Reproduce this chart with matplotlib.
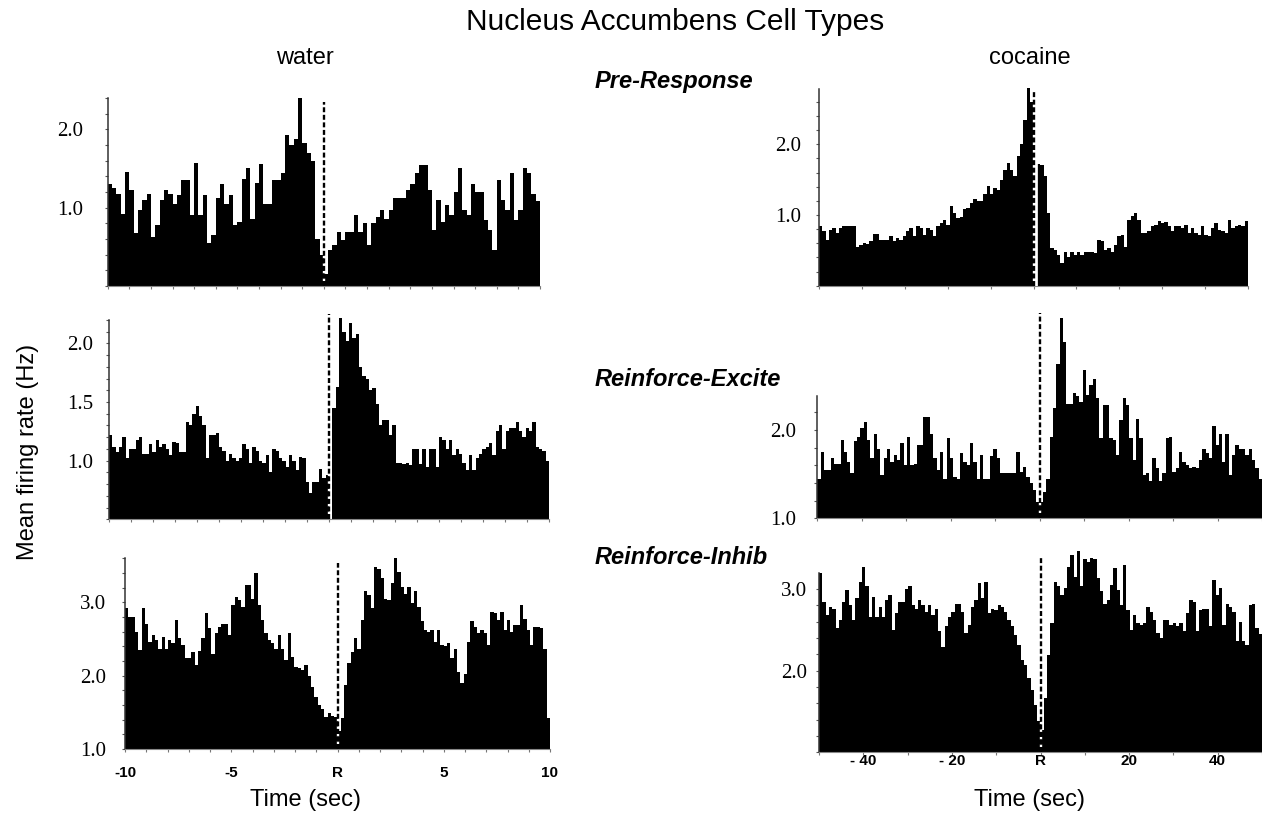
import numpy as np
import matplotlib
matplotlib.use('Agg')
import matplotlib.pyplot as plt
from matplotlib.ticker import FixedLocator, NullFormatter

# ---------------- data (mean firing rate, Hz) ----------------
water_pre = [1.30, 1.25, 1.17, 0.92, 1.45, 1.22, 0.68, 0.97, 1.10, 1.17,
             0.62, 0.78, 1.10, 1.22, 1.17, 1.05, 1.16, 1.35, 1.35, 0.90,
             1.57, 0.90, 1.16, 0.55, 0.65, 1.12, 1.30, 1.05, 1.16, 0.78,
             0.82, 1.37, 1.50, 0.85, 1.31, 1.56, 1.05, 1.05, 1.35, 1.35,
             1.44, 1.93, 1.80, 1.88, 2.40, 1.82, 1.70, 1.60, 0.60, 0.40,
             0.15, 0.46, 0.52, 0.69, 0.59, 0.69, 0.69, 0.90, 0.69, 0.80,
             0.52, 0.80, 0.88, 0.97, 0.86, 0.97, 1.12, 1.12, 1.12, 1.22,
             1.30, 1.44, 1.54, 1.54, 1.22, 0.71, 1.10, 0.82, 1.03, 0.90,
             1.20, 1.50, 0.97, 0.90, 1.30, 1.20, 1.20, 0.84, 0.71, 0.46,
             1.35, 1.10, 0.97, 1.44, 0.84, 0.97, 1.50, 1.44, 1.17, 1.08]

cocaine_pre = [0.84, 0.77, 0.65, 0.79, 0.81, 0.74, 0.81, 0.84, 0.84, 0.84,
               0.85, 0.55, 0.58, 0.60, 0.59, 0.63, 0.73, 0.73, 0.65, 0.64,
               0.64, 0.70, 0.63, 0.67, 0.65, 0.70, 0.77, 0.81, 0.70, 0.85,
               0.81, 0.72, 0.81, 0.79, 0.70, 0.84, 0.89, 0.93, 0.86, 1.13,
               1.03, 0.96, 0.97, 1.08, 1.10, 1.17, 1.22, 1.20, 1.20, 1.29,
               1.41, 1.29, 1.38, 1.36, 1.50, 1.64, 1.74, 1.64, 1.55, 1.83,
               2.00, 2.35, 2.80, 2.60,
               1.75, 1.72, 1.70, 1.55, 1.03, 0.53, 0.51, 0.44, 0.32, 0.48,
               0.41, 0.48, 0.44, 0.48, 0.44, 0.48, 0.48, 0.48, 0.46, 0.65,
               0.63, 0.51, 0.53, 0.48, 0.58, 0.70, 0.72, 0.55, 0.93, 0.98,
               1.03, 0.93, 0.74, 0.74, 0.77, 0.84, 0.86, 0.91, 0.89, 0.90,
               0.84, 0.77, 0.84, 0.84, 0.81, 0.86, 0.74, 0.81, 0.74, 0.72,
               0.84, 0.72, 0.70, 0.81, 0.88, 0.79, 0.77, 0.74, 0.93, 0.81,
               0.84, 0.86, 0.85, 0.91]

water_excite = [1.22, 1.12, 1.07, 1.12, 1.20, 1.02, 1.10, 1.10, 1.18, 1.20,
                1.06, 1.06, 1.14, 1.07, 1.18, 1.12, 1.14, 1.10, 1.05, 1.16,
                1.15, 1.07, 1.07, 1.33, 1.30, 1.40, 1.47, 1.38, 1.30, 1.02,
                1.22, 1.22, 1.24, 1.12, 1.08, 1.00, 1.06, 1.02, 1.00, 1.02,
                1.14, 1.10, 0.98, 1.12, 1.08, 1.00, 0.98, 1.05, 0.90, 1.10,
                1.08, 1.02, 1.00, 0.95, 1.05, 1.00, 0.92, 1.03, 1.02, 0.82,
                0.72, 0.82, 0.82, 0.93, 0.85, 0.88,
                0.50, 1.45, 1.63, 2.22, 2.10, 2.02, 2.17, 2.05, 2.08, 1.80,
                1.72, 1.70, 1.60, 1.62, 1.48, 1.30, 1.35, 1.35, 1.22, 1.30,
                0.98, 0.98, 0.97, 0.98, 0.96, 1.10, 1.10, 0.97, 1.10, 0.95,
                1.10, 1.10, 0.95, 1.20, 1.18, 1.10, 1.18, 1.05, 1.10, 1.06,
                0.98, 0.92, 1.05, 0.92, 1.02, 1.06, 1.10, 1.12, 1.15, 1.05,
                1.25, 1.30, 1.10, 1.25, 1.28, 1.28, 1.33, 1.25, 1.20, 1.28,
                1.25, 1.33, 1.12, 1.10, 1.08, 1.00]

cocaine_excite = [1.45, 1.75, 1.55, 1.55, 1.68, 1.62, 1.61, 1.89, 1.75, 1.64,
                  1.51, 1.87, 1.92, 2.02, 2.09, 1.89, 1.68, 1.96, 1.79, 1.49,
                  1.68, 1.78, 1.64, 1.72, 1.66, 1.85, 1.60, 1.92, 1.60, 1.62,
                  1.83, 1.83, 2.15, 2.15, 1.96, 1.68, 1.55, 1.75, 1.45, 1.91,
                  1.68, 1.47, 1.45, 1.74, 1.64, 1.60, 1.85, 1.64, 1.45, 1.72,
                  1.45, 1.45, 1.70, 1.79, 1.68, 1.51, 1.51, 1.51, 1.51, 1.51,
                  1.75, 1.53, 1.58, 1.47, 1.40, 1.32, 1.19,
                  1.19, 1.30, 1.45, 1.92, 2.25, 2.75, 3.27, 3.00, 2.30, 2.30,
                  2.42, 2.38, 2.32, 2.68, 2.40, 2.51, 2.58, 2.36, 1.91, 2.28,
                  2.28, 1.91, 1.89, 1.72, 2.11, 2.36, 2.28, 1.91, 1.66, 2.13,
                  1.91, 1.49, 1.51, 1.42, 1.68, 1.57, 1.42, 1.51, 1.91, 1.92,
                  1.53, 1.57, 1.75, 1.64, 1.60, 1.57, 1.58, 1.57, 1.66, 1.79,
                  1.74, 1.68, 2.04, 1.83, 1.96, 1.64, 1.96, 1.49, 1.72, 1.83,
                  1.78, 1.78, 1.72, 1.79, 1.66, 1.57, 1.45]

water_inhib = [2.93, 2.80, 2.80, 2.60, 2.35, 2.92, 2.70, 2.46, 2.55, 2.49,
               2.36, 2.53, 2.37, 2.49, 2.44, 2.76, 2.52, 2.42, 2.24, 2.24,
               2.32, 2.15, 2.34, 2.51, 2.85, 2.65, 2.30, 2.58, 2.67, 2.70,
               2.71, 2.55, 2.96, 3.08, 3.03, 2.94, 3.24, 3.24, 3.05, 3.40,
               2.96, 2.76, 2.58, 2.49, 2.44, 2.37, 2.55, 2.37, 2.21, 2.58,
               2.26, 2.12, 2.10, 2.08, 2.15, 1.99, 1.85, 1.71, 1.60, 1.55,
               1.44, 1.49, 1.45, 1.44,
               1.24, 1.42, 1.87, 2.17, 2.33, 2.51, 2.37, 2.76, 3.15, 3.10,
               2.92, 3.49, 3.46, 3.33, 3.05, 3.03, 3.26, 3.60, 3.42, 3.21,
               3.12, 3.21, 2.99, 3.15, 2.94, 2.74, 2.62, 2.60, 2.62, 2.46,
               2.62, 2.42, 2.40, 2.44, 2.24, 2.37, 2.05, 1.90, 2.03, 2.46,
               2.74, 2.67, 2.58, 2.62, 2.58, 2.42, 2.87, 2.85, 2.76, 2.87,
               2.62, 2.76, 2.60, 2.69, 2.69, 2.96, 2.78, 2.62, 2.42, 2.67,
               2.66, 2.65, 2.37, 1.42]

cocaine_inhib = [3.19, 2.84, 2.68, 2.78, 2.76, 2.52, 2.62, 2.84, 2.99, 2.80,
                 2.62, 2.89, 3.09, 3.27, 3.03, 2.66, 2.90, 2.66, 2.78, 2.66,
                 2.87, 2.93, 2.50, 2.70, 2.84, 2.84, 3.00, 3.03, 2.80, 2.76,
                 2.87, 2.80, 2.72, 2.80, 2.68, 2.76, 2.48, 2.29, 2.54, 2.66,
                 2.72, 2.82, 2.82, 2.72, 2.46, 2.56, 2.78, 2.87, 3.07, 2.89,
                 3.09, 2.70, 2.76, 2.74, 2.80, 2.78, 2.72, 2.62, 2.54, 2.44,
                 2.31, 2.13, 2.07, 1.91, 1.76, 1.58, 1.38,
                 1.27, 1.66, 2.19, 2.58, 3.09, 3.03, 2.93, 3.01, 3.27, 3.42,
                 3.15, 3.46, 3.03, 3.36, 3.33, 3.38, 3.36, 3.13, 2.97, 2.82,
                 2.87, 3.05, 3.25, 2.99, 2.80, 3.29, 2.74, 2.50, 2.68, 2.58,
                 2.56, 2.58, 2.78, 2.72, 2.62, 2.46, 2.40, 2.62, 2.62, 2.56,
                 2.58, 2.54, 2.58, 2.48, 2.70, 2.87, 2.84, 2.48, 2.74, 2.76,
                 2.76, 2.54, 3.11, 2.93, 3.01, 2.56, 2.82, 2.78, 2.72, 2.36,
                 2.60, 2.36, 2.31, 2.80, 2.82, 2.52, 2.45]

water_xlabels = ['-10', '-5', 'R', '5', '10']
water_xticks = [-10, -5, 0, 5, 10]
cocaine_xlabels = ['- 40', '- 20', 'R', '20', '40']
cocaine_xticks = [-40, -20, 0, 20, 40]

# ---------------- figure ----------------
W, H = 1262, 826
fig = plt.figure(figsize=(W / 100, H / 100), dpi=100)
fig.patch.set_facecolor('white')


def rect(x0, x1, ybase, ytop):
    return [x0 / W, 1 - ybase / H, (x1 - x0) / W, (ybase - ytop) / H]


panels = [
    dict(v=water_pre, xlim=(-10, 10), ylim=(0, 2.42), stop=2.4, yt=[1.0, 2.0], ms=0.2,
         pad=15.5, r=rect(107.7, 540, 286, 96.3), dtop=2.35, strip=False, xm=1, bottom=False),
    dict(v=cocaine_pre, xlim=(-50, 50), ylim=(0, 2.82), stop=2.78, yt=[1.0, 2.0], ms=0.2,
         pad=10.3, r=rect(819, 1248, 285.7, 86.3), dtop=2.77, strip=True, xm=10, bottom=False),
    dict(v=water_excite, xlim=(-10, 10), ylim=(0.5, 2.26), stop=2.2, yt=[1.0, 1.5, 2.0], ms=0.1,
         pad=9.1, r=rect(109, 549, 519.3, 312.9), dtop=2.25, strip=False, xm=1, bottom=False),
    dict(v=cocaine_excite, xlim=(-50, 50), ylim=(1.0, 3.35), stop=2.39, yt=[1.0, 2.0], ms=0.2,
         pad=12.7, r=rect(817.3, 1262, 518.3, 310.8), dtop=3.33, strip=False, xm=10, bottom=False),
    dict(v=water_inhib, xlim=(-10, 10), ylim=(1.0, 3.62), stop=3.6, yt=[1.0, 2.0, 3.0], ms=0.2,
         pad=11.0, r=rect(125, 550, 749, 557.0), dtop=3.54, strip=False, xm=1, bottom='water'),
    dict(v=cocaine_inhib, xlim=(-50, 50), ylim=(1.0, 3.5), stop=3.19, yt=[2.0, 3.0], ms=0.2,
         pad=5.8, r=rect(819, 1262, 752.3, 548.05), dtop=3.39, strip=False, xm=10, bottom='cocaine'),
]

for p in panels:
    ax = fig.add_axes(p['r'])
    vals = np.asarray(p['v'])
    edges = np.linspace(p['xlim'][0], p['xlim'][1], len(vals) + 1)
    ax.stairs(vals, edges, baseline=p['ylim'][0], fill=True, color='black', lw=0)
    ax.set_xlim(*p['xlim'])
    ax.set_ylim(*p['ylim'])
    ax.set_facecolor('none')
    for s in ('top', 'right'):
        ax.spines[s].set_visible(False)
    ax.spines['left'].set_bounds(p['ylim'][0], p['stop'])
    ax.spines['left'].set_color('#333333')
    ax.spines['left'].set_linewidth(1.1)
    ax.spines['bottom'].set_color('#888888')
    ax.spines['bottom'].set_linewidth(0.8)

    # y ticks
    ax.yaxis.set_major_locator(FixedLocator(p['yt']))
    ax.set_yticklabels(['%.1f' % t for t in p['yt']], family='Liberation Serif', fontsize=15)
    ax.yaxis.set_minor_locator(FixedLocator(np.arange(p['ylim'][0], p['stop'] + 1e-6, p['ms'])))
    ax.tick_params(axis='y', which='both', length=2.5, width=0.8, color='#555555',
                   pad=p['pad'], labelcolor='black')

    # x ticks
    ax.xaxis.set_minor_locator(FixedLocator(np.arange(p['xlim'][0], p['xlim'][1] + 1e-6, p['xm'])))
    if p['bottom'] == 'water':
        ax.set_xticks(water_xticks)
        ax.set_xticklabels(water_xlabels, fontsize=11, fontweight='bold', family='Liberation Sans')
        ax.tick_params(axis='x', which='both', length=2.5, width=0.8, color='#777777', pad=9.5)
    elif p['bottom'] == 'cocaine':
        ax.set_xticks(cocaine_xticks)
        ax.set_xticklabels(cocaine_xlabels, fontsize=11, fontweight='bold', family='Liberation Sans')
        ax.tick_params(axis='x', which='both', length=2.0, width=0.8, color='#777777', pad=-1)
    else:
        ax.set_xticks([])
        ax.xaxis.set_minor_formatter(NullFormatter())
        ax.tick_params(axis='x', which='minor', length=2.5, width=0.8, color='#777777')

    # response marker
    if p['strip']:
        ax.plot([0.25, 0.25], [p['ylim'][0], p['dtop']], color='white', lw=3.4,
                solid_capstyle='butt', zorder=3)
    ax.plot([0, 0], [p['ylim'][0], p['dtop']], color='black', lw=1.7,
            linestyle=(0, (2.1, 1.1)), gapcolor='white', zorder=4)


def ftext(x, y, s, **kw):
    fig.text(x / W, 1 - y / H, s, **kw)


ftext(675, 22, 'Nucleus Accumbens Cell Types', ha='center', va='center',
      fontsize=21.5, family='Liberation Sans')
ftext(305, 58, 'water', ha='center', va='center', fontsize=17, family='Liberation Sans')
ftext(1030, 58, 'cocaine', ha='center', va='center', fontsize=17, family='Liberation Sans')
ftext(305, 800, 'Time (sec)', ha='center', va='center', fontsize=17, family='Liberation Sans')
ftext(1030, 800, 'Time (sec)', ha='center', va='center', fontsize=17, family='Liberation Sans')
ftext(28, 452, 'Mean firing rate (Hz)', ha='center', va='center', rotation=90,
      fontsize=17, family='Liberation Sans')
for lab, yy in [('Pre-Response', 81.7), ('Reinforce-Excite', 380), ('Reinforce-Inhib', 558)]:
    ftext(595, yy, lab, ha='left', va='center', fontsize=17, fontweight='bold',
          fontstyle='italic', family='Liberation Sans')

fig.savefig('out.png', dpi=100, facecolor='white')
